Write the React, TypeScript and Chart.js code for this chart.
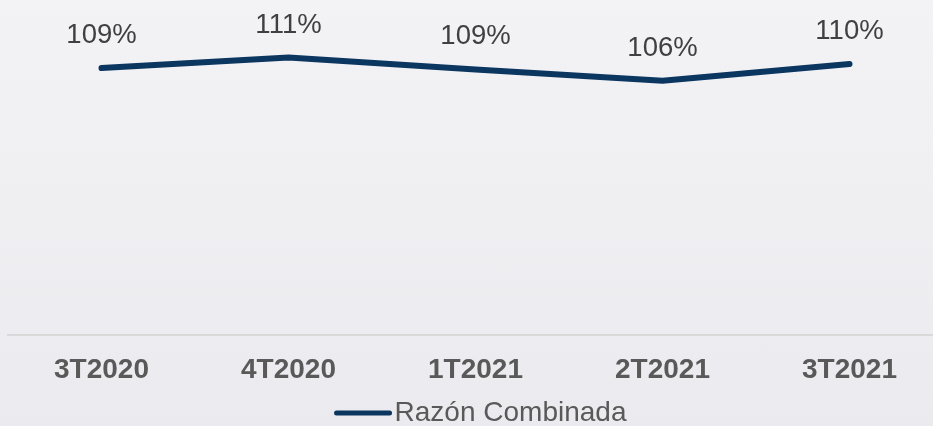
import React, { useEffect, useRef } from "react";
import { Chart, registerables } from "chart.js";

Chart.register(...registerables);

const categories = ["3T2020", "4T2020", "1T2021", "2T2021", "3T2021"];
const ratioValues = [108.6, 110.9, 108.3, 105.8, 109.5];
const ratioLabels = ["109%", "111%", "109%", "106%", "110%"];
const seriesName = "Razón Combinada";

const FONT = "'Liberation Sans', Arial, sans-serif";
const LINE_COLOR = "#0b3660";

const dataLabelPlugin = {
  id: "dataLabels",
  afterDatasetsDraw(chart: any) {
    const ctx = chart.ctx;
    const meta = chart.getDatasetMeta(0);
    ctx.save();
    ctx.font = `27.5px ${FONT}`;
    ctx.fillStyle = "#404040";
    ctx.textAlign = "center";
    ctx.textBaseline = "middle";
    meta.data.forEach((pt: any, i: number) => {
      ctx.fillText(ratioLabels[i], pt.x, pt.y - 32.5);
    });
    ctx.restore();
  },
};

const legendPlugin = {
  id: "customLegend",
  afterDraw(chart: any) {
    const ctx = chart.ctx;
    ctx.save();
    ctx.font = `28px ${FONT}`;
    const tw = ctx.measureText(seriesName).width;
    const lineLen = 57;
    const gap = 3;
    const total = lineLen + gap + tw;
    const cx = (chart.chartArea.left + chart.chartArea.right) / 2 + 5;
    const startX = cx - total / 2;
    const y = 413;
    ctx.strokeStyle = LINE_COLOR;
    ctx.lineWidth = 5;
    ctx.lineCap = "round";
    ctx.beginPath();
    ctx.moveTo(startX + 2, y);
    ctx.lineTo(startX + lineLen - 2, y);
    ctx.stroke();
    ctx.fillStyle = "#595959";
    ctx.textAlign = "left";
    ctx.textBaseline = "middle";
    ctx.fillText(seriesName, startX + lineLen + gap, y);
    ctx.restore();
  },
};

export default function App() {
  const ref = useRef<HTMLCanvasElement | null>(null);
  useEffect(() => {
    document.body.style.margin = "0";
    document.body.style.overflow = "hidden";
    const chart = new Chart(ref.current as HTMLCanvasElement, {
      type: "line",
      data: {
        labels: categories,
        datasets: [
          {
            label: seriesName,
            data: ratioValues,
            borderColor: LINE_COLOR,
            backgroundColor: LINE_COLOR,
            borderWidth: 6,
            borderCapStyle: "round",
            borderJoinStyle: "round",
            pointRadius: 0,
            tension: 0,
          },
        ],
      },
      options: {
        responsive: false,
        animation: false,
        devicePixelRatio: 1,
        layout: { padding: { top: 16, bottom: 21, left: 8, right: 0 } },
        plugins: {
          legend: { display: false },
          tooltip: { enabled: false },
        },
        scales: {
          x: {
            offset: true,
            grid: { display: false, drawTicks: false },
            border: { display: true, color: "#d9d9d9", width: 2 },
            ticks: {
              padding: 18,
              color: "#595959",
              font: { family: FONT, size: 28, weight: "bold" },
              maxRotation: 0,
              autoSkip: false,
            },
          },
          y: {
            display: false,
            min: 50,
            max: 120,
          },
        },
      },
      plugins: [dataLabelPlugin, legendPlugin],
    } as any);
    return () => chart.destroy();
  }, []);
  return (
    <div
      style={{
        width: 943,
        height: 426,
        background: "linear-gradient(#f3f2f5, #ebeaee)",
      }}
    >
      <canvas ref={ref} width={943} height={426} style={{ display: "block" }} />
    </div>
  );
}
